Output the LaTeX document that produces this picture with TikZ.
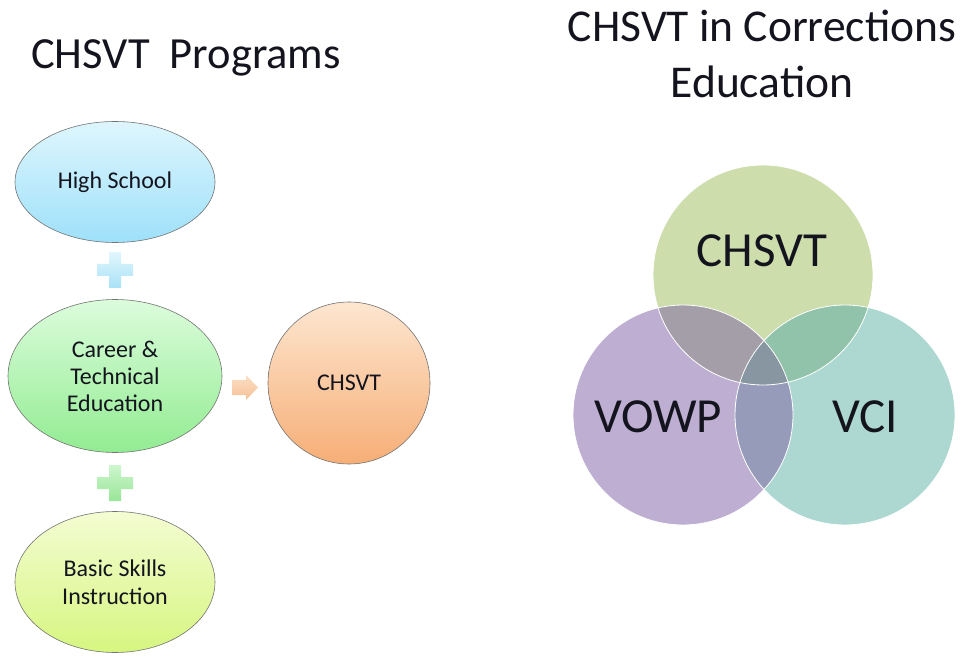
\documentclass[tikz,border=0pt]{standalone}
\usepackage{fontspec}
\setmainfont{Carlito}
\usetikzlibrary{shapes.geometric}

% Fill colours
\definecolor{hsTop}{RGB}{222,246,253}
\definecolor{hsBot}{RGB}{158,224,250}
\definecolor{cteTop}{RGB}{220,252,220}
\definecolor{cteBot}{RGB}{146,236,146}
\definecolor{bsTop}{RGB}{244,252,210}
\definecolor{bsBot}{RGB}{214,246,128}
\definecolor{chTop}{RGB}{253,230,208}
\definecolor{chBot}{RGB}{246,174,118}
\definecolor{plusBTop}{RGB}{226,246,253}
\definecolor{plusBBot}{RGB}{168,226,246}
\definecolor{plusGTop}{RGB}{206,246,206}
\definecolor{plusGBot}{RGB}{152,230,152}
\definecolor{arTop}{RGB}{252,222,196}
\definecolor{arBot}{RGB}{246,194,152}
\definecolor{vG}{RGB}{205,221,172}
\definecolor{vP}{RGB}{190,175,210}
\definecolor{vT}{RGB}{173,216,210}
\definecolor{vGP}{RGB}{164,158,168}
\definecolor{vGT}{RGB}{145,195,170}
\definecolor{vPT}{RGB}{151,155,186}
\definecolor{vGPT}{RGB}{136,150,161}
\definecolor{ink}{RGB}{20,20,30}

\tikzset{
  blob/.style={ellipse, draw=black!55, line width=0.6pt, text=ink, align=center,
    font=\fontsize{24}{27}\selectfont, inner sep=0pt},
  titletext/.style={inner sep=0pt, text=ink},
  venntext/.style={inner sep=0pt, text=ink, font=\fontsize{49}{56}\selectfont},
  vennedge/.style={draw=white, line width=0.8pt},
}

\begin{document}
\begin{tikzpicture}[x=1pt,y=-1pt]
\useasboundingbox (0,0) rectangle (972,660);

% Titles
\node[titletext, anchor=base west, font=\fontsize{44.5}{50}\selectfont] (t1) at (31,69) {CHSVT\ \ Programs};
\node[titletext, anchor=base, align=center, font=\fontsize{45.5}{56}\selectfont] (t2) at (762,98) {CHSVT in Corrections\\Education};

% Program flow
\node[blob, minimum width=200pt, minimum height=121pt, top color=hsTop, bottom color=hsBot] (hs) at (115,182) {High School};
\node[blob, minimum width=214pt, minimum height=153pt, top color=cteTop, bottom color=cteBot] (cte) at (115,376) {Career \&\\Technical\\Education};
\node[blob, minimum width=200pt, minimum height=141pt, top color=bsTop, bottom color=bsBot, font=\fontsize{24}{28}\selectfont] (bsi) at (115,582) {Basic Skills\\Instruction};
\node[blob, circle, minimum size=162pt, top color=chTop, bottom color=chBot] (chs) at (349,383) {CHSVT};

% Plus signs between the programs
\shade[top color=plusBTop, bottom color=plusBBot]
  (109,252) -- (121,252) -- (121,264) -- (133,264) -- (133,276) -- (121,276)
  -- (121,288) -- (109,288) -- (109,276) -- (97,276) -- (97,264) -- (109,264) -- cycle;
\shade[top color=plusGTop, bottom color=plusGBot]
  (109,465) -- (121,465) -- (121,477) -- (133,477) -- (133,489) -- (121,489)
  -- (121,501) -- (109,501) -- (109,489) -- (97,489) -- (97,477) -- (109,477) -- cycle;

% Block arrow into CHSVT
\shade[top color=arTop, bottom color=arBot]
  (232,380) -- (246,380) -- (246,375) -- (258,387.5) -- (246,400) -- (246,395) -- (232,395) -- cycle;

% Venn diagram
\coordinate (cg) at (763,275);
\coordinate (cp) at (683,415);
\coordinate (ct) at (845,415);
\def\vr{110}
\fill[vG] (cg) circle (\vr);
\fill[vP] (cp) circle (\vr);
\fill[vT] (ct) circle (\vr);
\begin{scope}
  \clip (cg) circle (\vr);
  \fill[vGP] (cp) circle (\vr);
  \fill[vGT] (ct) circle (\vr);
\end{scope}
\begin{scope}
  \clip (cp) circle (\vr);
  \fill[vPT] (ct) circle (\vr);
  \clip (ct) circle (\vr);
  \fill[vGPT] (cg) circle (\vr);
\end{scope}
\draw[vennedge] (cg) circle (\vr);
\draw[vennedge] (cp) circle (\vr);
\draw[vennedge] (ct) circle (\vr);

\node[venntext] (vg) at (762,251) {CHSVT};
\node[venntext] (vp) at (658,417) {VOWP};
\node[venntext] (vt) at (865,417) {VCI};
\end{tikzpicture}
\end{document}
